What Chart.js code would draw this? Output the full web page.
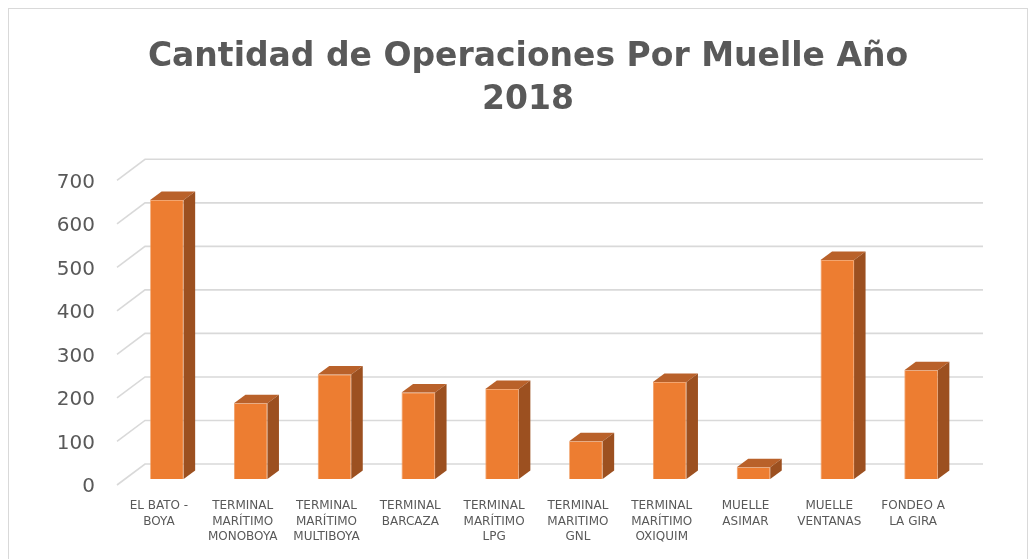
<!DOCTYPE html>
<html lang="es">
<head>
<meta charset="utf-8">
<title>Cantidad de Operaciones Por Muelle Año 2018</title>
<script src="https://cdn.jsdelivr.net/npm/chart.js@4.4.1/dist/chart.umd.min.js"></script>
<style>
  html, body { margin: 0; padding: 0; background: #ffffff; }
  canvas { display: block; }
</style>
</head>
<body>
<canvas id="chart" width="1033" height="559"></canvas>
<script>
// Muelles (multi-line category labels)
const muelles = [
  ["EL BATO -", "BOYA"],
  ["TERMINAL", "MARÍTIMO", "MONOBOYA"],
  ["TERMINAL", "MARÍTIMO", "MULTIBOYA"],
  ["TERMINAL", "BARCAZA"],
  ["TERMINAL", "MARÍTIMO", "LPG"],
  ["TERMINAL", "MARITIMO", "GNL"],
  ["TERMINAL", "MARÍTIMO", "OXIQUIM"],
  ["MUELLE", "ASIMAR"],
  ["MUELLE", "VENTANAS"],
  ["FONDEO A", "LA GIRA"]
];

// Operaciones 2018 por muelle
const operaciones = [641, 174, 240, 199, 207, 87, 223, 27, 503, 250];

// Value axis ticks
const valorTicks = [0, 100, 200, 300, 400, 500, 600, 700];

const titulo = ["Cantidad de Operaciones Por Muelle Año", "2018"];

// Oblique depth offsets (pixels)
const FLOOR_FRONT = { dx: -8, dy: 6 };   // front edge of floor relative to bar front plane
const BACK_WALL = { dx: 20, dy: -15 };   // back wall relative to bar front plane
const BAR_DEPTH = { dx: 11.5, dy: -8.5 };

const GRID_COLOR = '#d9d9d9';
const TEXT_COLOR = '#595959';
const FRONT_COLOR = '#ED7D31';
const TOP_COLOR = '#B9612A';
const SIDE_COLOR = '#9C5020';

const frame3d = {
  id: 'frame3d',
  beforeDraw(chart) {
    const ctx = chart.ctx;
    ctx.save();
    ctx.fillStyle = '#ffffff';
    ctx.fillRect(0, 0, chart.width, chart.height);
    ctx.strokeStyle = '#d9d9d9';
    ctx.lineWidth = 1;
    ctx.strokeRect(8.5, 8.5, 1019, 560);
    // chart title, centred over the plot frame
    ctx.fillStyle = TEXT_COLOR;
    ctx.font = 'bold 33px "DejaVu Sans"';
    ctx.textAlign = 'center';
    ctx.textBaseline = 'middle';
    titulo.forEach((line, i) => ctx.fillText(line, 528, 57 + i * 43));
    ctx.restore();
  },
  beforeDatasetsDraw(chart) {
    const ctx = chart.ctx;
    const y = chart.scales.y;
    const area = chart.chartArea;
    ctx.save();
    ctx.strokeStyle = GRID_COLOR;
    ctx.lineWidth = 1.6;
    ctx.lineCap = 'butt';
    y.ticks.forEach(t => {
      const py = y.getPixelForValue(t.value);
      ctx.beginPath();
      // side wall diagonal
      ctx.moveTo(area.left + FLOOR_FRONT.dx, py + FLOOR_FRONT.dy);
      ctx.lineTo(area.left + BACK_WALL.dx, py + BACK_WALL.dy);
      // back wall line
      ctx.lineTo(area.right + BACK_WALL.dx, py + BACK_WALL.dy);
      ctx.stroke();
    });
    ctx.restore();
  },
  afterDatasetsDraw(chart) {
    const ctx = chart.ctx;
    const meta = chart.getDatasetMeta(0);
    ctx.save();
    meta.data.forEach(bar => {
      const p = bar.getProps(['x', 'y', 'base', 'width'], true);
      const l = p.x - p.width / 2;
      const r = p.x + p.width / 2;
      const { dx, dy } = BAR_DEPTH;
      // top face
      ctx.fillStyle = TOP_COLOR;
      ctx.beginPath();
      ctx.moveTo(l, p.y);
      ctx.lineTo(l + dx, p.y + dy);
      ctx.lineTo(r + dx, p.y + dy);
      ctx.lineTo(r, p.y);
      ctx.closePath();
      ctx.fill();
      // right side face
      ctx.fillStyle = SIDE_COLOR;
      ctx.beginPath();
      ctx.moveTo(r, p.y);
      ctx.lineTo(r + dx, p.y + dy);
      ctx.lineTo(r + dx, p.base + dy);
      ctx.lineTo(r, p.base);
      ctx.closePath();
      ctx.fill();
    });
    ctx.restore();
  }
};

new Chart(document.getElementById('chart'), {
  type: 'bar',
  data: {
    labels: muelles,
    datasets: [{
      label: 'Operaciones',
      data: operaciones,
      backgroundColor: FRONT_COLOR,
      borderColor: '#F19A5E',
      borderWidth: 0.8,
      barPercentage: 0.4,
      categoryPercentage: 1.0
    }]
  },
  options: {
    responsive: false,
    devicePixelRatio: 1,
    animation: false,
    layout: { padding: { left: 0, right: 70, top: 174.3, bottom: 0 } },
    plugins: {
      legend: { display: false },
      tooltip: { enabled: false },
      title: { display: false }
    },
    scales: {
      x: {
        grid: { display: false, drawTicks: false },
        border: { display: false },
        ticks: {
          color: TEXT_COLOR,
          font: { family: 'DejaVu Sans', size: 12, lineHeight: 1.3 },
          padding: 19,
          labelOffset: -8,
          maxRotation: 0,
          autoSkip: false
        },
        afterFit(scale) { scale.height = 80; }
      },
      y: {
        min: 0,
        max: 700,
        grid: { display: false, drawTicks: false },
        border: { display: false },
        afterBuildTicks(scale) { scale.ticks = valorTicks.map(v => ({ value: v })); },
        ticks: {
          color: TEXT_COLOR,
          font: { family: 'DejaVu Sans', size: 20 },
          padding: 30,
          labelOffset: 8
        },
        afterFit(scale) { scale.width = 125; }
      }
    }
  },
  plugins: [frame3d]
});
</script>
</body>
</html>
